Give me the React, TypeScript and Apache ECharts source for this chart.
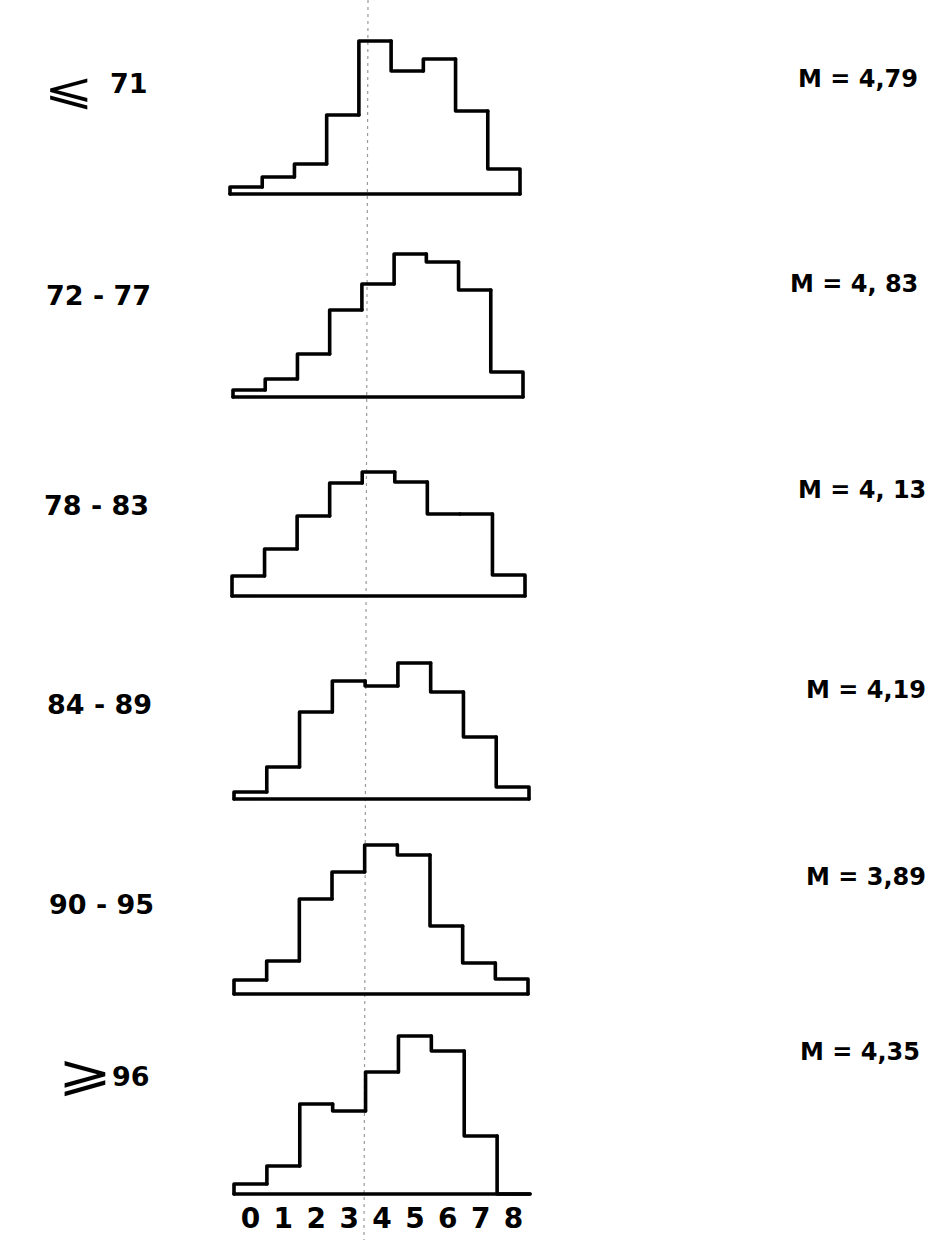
import React, { useEffect, useRef } from "react";
import * as echarts from "echarts";

const bins = ["0", "1", "2", "3", "4", "5", "6", "7", "8"];

const groupLabels = ["71", "72 - 77", "78 - 83", "84 - 89", "90 - 95", "96"];
const meanLabels = ["M = 4,79", "M = 4, 83", "M = 4, 13", "M = 4,19", "M = 3,89", "M = 4,35"];

const h71 = [7, 17, 30, 79, 153, 123, 135, 83, 25];
const h72_77 = [7, 18, 43, 87, 113, 143, 135, 107, 25];
const h78_83 = [20, 47, 80, 113, 124, 114, 82, 82, 21];
const h84_89 = [7, 32, 87, 118, 113, 136, 107, 62, 12];
const h90_95 = [14, 33, 95, 122, 149, 139, 68, 31, 15];
const h96 = [10, 28, 90, 83, 122, 158, 143, 58, 0];

const histograms = [h71, h72_77, h78_83, h84_89, h90_95, h96];

// layout (pixels)
const baselines = [194, 397, 596, 799, 994, 1194];
const gridLefts = [230, 233, 232, 234, 234, 234];
const gridRights = [520, 523, 525, 529, 528, 530];
const GRID_H = 170;

const leftLabelPos = [
  { x: 110, y: 83 },
  { x: 46, y: 295 },
  { x: 44, y: 505 },
  { x: 47, y: 704 },
  { x: 49, y: 904 },
  { x: 112, y: 1076 },
];
const rightLabelPos = [
  { x: 798, y: 79 },
  { x: 790, y: 284 },
  { x: 798, y: 490 },
  { x: 806, y: 690 },
  { x: 806, y: 877 },
  { x: 800, y: 1052 },
];

const FONT = "DejaVu Sans";

export default function App() {
  const ref = useRef<HTMLDivElement>(null);

  useEffect(() => {
    if (!ref.current) return;
    const chart = echarts.init(ref.current, null, { renderer: "svg" });

    const grids: any[] = [];
    const xAxes: any[] = [];
    const yAxes: any[] = [];
    const series: any[] = [];

    histograms.forEach((h, k) => {
      grids.push({
        left: gridLefts[k],
        width: gridRights[k] - gridLefts[k],
        top: baselines[k] - GRID_H,
        height: GRID_H,
      });
      xAxes.push({
        type: "category",
        gridIndex: k,
        data: bins,
        boundaryGap: true,
        axisLine: { show: true, lineStyle: { color: "#000", width: 3.5, cap: "round" } },
        axisTick: { show: false },
        axisLabel: {
          show: k === histograms.length - 1,
          interval: 0,
          hideOverlap: false,
          color: "#000",
          fontFamily: FONT,
          fontWeight: "bold",
          fontSize: 28,
          margin: 10,
        },
        splitLine: { show: false },
      });
      yAxes.push({
        type: "value",
        gridIndex: k,
        min: 0,
        max: GRID_H,
        show: false,
        splitLine: { show: false },
      });
      const data = h.map((v, i) => [i, v, i === 0 ? 0 : h[i - 1], i === h.length - 1 ? 1 : 0]);
      series.push({
        type: "custom",
        xAxisIndex: k,
        yAxisIndex: k,
        clip: false,
        encode: { x: 0, y: 1 },
        data,
        renderItem: (params: any, api: any) => {
          const i = api.value(0);
          const v = api.value(1);
          const prev = api.value(2);
          const last = api.value(3);
          const c = api.coord([i, v]);
          const w = api.size([1, 0])[0];
          const x0 = c[0] - w / 2;
          const x1 = c[0] + w / 2;
          const yPrev = api.coord([i, prev])[1];
          const y0 = api.coord([i, 0])[1];
          const pts: number[][] = [
            [x0, yPrev],
            [x0, c[1]],
            [x1, c[1]],
          ];
          if (last) pts.push([x1, y0]);
          return {
            type: "polyline",
            shape: { points: pts },
            style: { stroke: "#000", lineWidth: 3.6, fill: null, lineJoin: "round", lineCap: "round" },
          };
        },
      });
    });

    const graphics: any[] = [];
    // faint fold line of the scan
    graphics.push({
      type: "line",
      shape: { x1: 368, y1: 0, x2: 364, y2: 1240 },
      style: { stroke: "#9a9a9a", lineWidth: 1.2, lineDash: [3, 4] },
      z: -1,
    });
    groupLabels.forEach((t, k) => {
      graphics.push({
        type: "text",
        x: leftLabelPos[k].x,
        y: leftLabelPos[k].y,
        style: {
          text: t,
          fill: "#000",
          font: `bold 27px "${FONT}"`,
          verticalAlign: "middle",
        },
      });
    });
    // relation symbols
    graphics.push({
      type: "text",
      x: 44,
      y: 88,
      scaleX: 1.35,
      style: { text: "⩽", fill: "#000", font: `44px "${FONT}"`, verticalAlign: "middle" },
    });
    graphics.push({
      type: "text",
      x: 58,
      y: 1073,
      scaleX: 1.3,
      style: { text: "⩾", fill: "#000", font: `50px "${FONT}"`, verticalAlign: "middle" },
    });
    meanLabels.forEach((t, k) => {
      graphics.push({
        type: "text",
        x: rightLabelPos[k].x,
        y: rightLabelPos[k].y,
        style: {
          text: t,
          fill: "#000",
          font: `bold 24px "${FONT}"`,
          verticalAlign: "middle",
        },
      });
    });

    chart.setOption({
      animation: false,
      backgroundColor: "#fff",
      grid: grids,
      xAxis: xAxes,
      yAxis: yAxes,
      series,
      graphic: graphics,
    });

    return () => chart.dispose();
  }, []);

  return (
    <div
      ref={ref}
      style={{ position: "fixed", left: 0, top: 0, width: 935, height: 1240, background: "#fff" }}
    />
  );
}
